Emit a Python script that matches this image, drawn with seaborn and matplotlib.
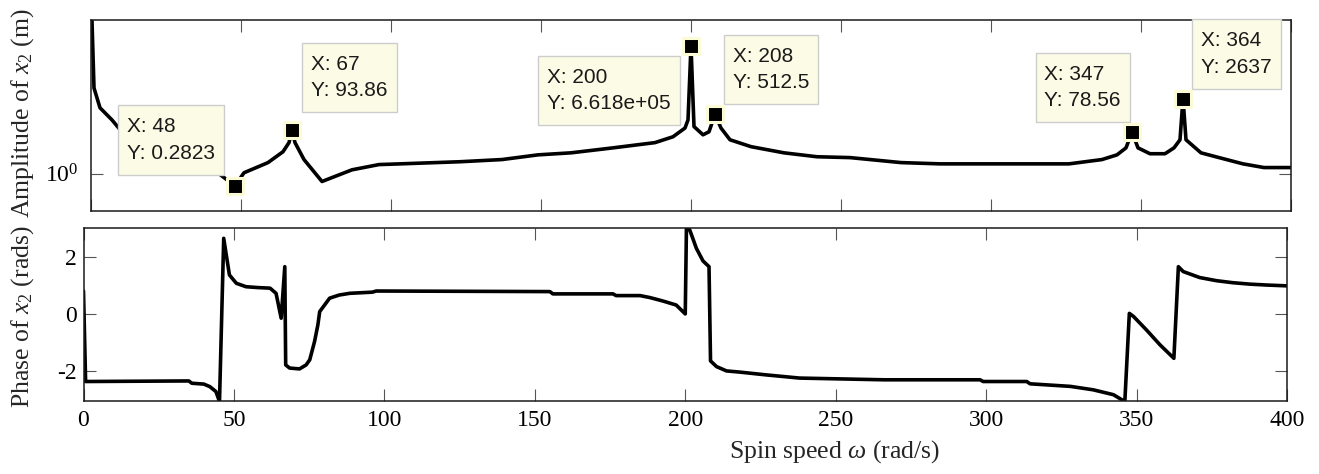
import matplotlib
matplotlib.use("Agg")
import matplotlib.pyplot as plt
from matplotlib.patches import Rectangle
import seaborn as sns
import pandas as pd

# Amplitude of x2 versus spin speed (rad/s)
amp_speed = [0, 1, 3, 7, 10, 20, 30, 40, 44, 48, 51, 59, 64, 66, 67, 68, 71, 77, 81, 87,
             96, 103, 123, 137, 149, 160, 174, 188, 194, 198, 199, 200, 201, 204, 206, 208,
             210, 213, 220, 231, 242, 253, 270, 283, 326, 337, 342, 345, 347, 349, 353, 358,
             361, 363, 364, 365, 370, 376, 384, 391, 400]
amp_value = [3e8, 8000, 1000, 280, 90, 21, 7.3, 1.9, 0.72, 0.2823, 1.1, 3.2, 10, 26, 93.86, 26,
             4.4, 0.44, 0.72, 1.5, 2.6, 2.8, 3.5, 4.4, 7.2, 8.9, 15, 26, 48, 120, 280, 6.618e5,
             140, 59, 81, 512.5, 120, 35, 17, 8.9, 5.9, 5.4, 3.2, 2.8, 2.8, 4.4, 7.2, 15, 78.56,
             15, 8.1, 8.1, 15, 35, 2637, 35, 8.9, 5.4, 2.8, 1.9, 1.9]

# Phase of x2 versus spin speed (rad/s)
phase_speed = [0, 0.7, 35, 36, 40, 42, 44, 45.2, 46.6, 48.5, 50.8, 54, 58, 62, 64, 65.7, 66.9,
               67.2, 68.5, 71.8, 74, 75.2, 76.8, 77.9, 78.5, 81.8, 85, 88.5, 96, 97.3, 155, 156,
               176, 177, 185, 188.3, 192.6, 197, 200, 200.4, 201.5, 203.7, 205.9, 207.9, 208.4,
               210.4, 213.7, 218, 227, 238, 266, 298, 299, 313.5, 314.6, 328, 335.6, 342.3,
               346.1, 347.6, 349, 353.3, 357.8, 362.4, 363.9, 365.5, 371, 376.6, 382, 387.7,
               393, 400]
phase_value = [0.81, -2.35, -2.33, -2.41, -2.44, -2.53, -2.70, -3.05, 2.65, 1.37, 1.08, 0.96,
               0.93, 0.91, 0.73, -0.14, 1.66, -1.77, -1.88, -1.91, -1.77, -1.59, -0.95, -0.37,
               0.09, 0.56, 0.67, 0.73, 0.77, 0.81, 0.79, 0.71, 0.71, 0.65, 0.65, 0.58, 0.46,
               0.32, 0.01, 3.05, 2.94, 2.30, 1.86, 1.66, -1.63, -1.83, -1.98, -2.02, -2.12,
               -2.23, -2.29, -2.29, -2.35, -2.35, -2.43, -2.52, -2.64, -2.81, -3.05, 0.03,
               -0.08, -0.55, -1.07, -1.54, 1.66, 1.49, 1.28, 1.17, 1.10, 1.05, 1.02, 0.99]

# Data tips on the amplitude curve
tip_x = [48, 67, 200, 208, 347, 364]
tip_y = [0.2823, 93.86, 6.618e5, 512.5, 78.56, 2637]

x_ticks = [0, 50, 100, 150, 200, 250, 300, 350, 400]
phase_ticks = [-2, 0, 2]

# Corner of each tip box and its pixel offset from the marker centre
tip_layout = [("lr", -11, 11), ("ll", 10, 18), ("ur", -11, -10),
              ("ll", 9, 10), ("lr", -2, 10), ("ll", 9, 10)]

sns.set_theme(style="ticks")
plt.rcParams["font.family"] = ["Liberation Serif", "DejaVu Serif"]
plt.rcParams["mathtext.fontset"] = "custom"
plt.rcParams["mathtext.rm"] = "Liberation Serif"
plt.rcParams["mathtext.it"] = "Liberation Serif:italic"
plt.rcParams["mathtext.bf"] = "Liberation Serif:bold"

W, H, DPI = 1319, 474, 100
fig = plt.figure(figsize=(W / DPI, H / DPI), dpi=DPI)
ax1 = fig.add_axes([91 / W, 1 - 211 / H, 1200 / W, 191 / H])
ax2 = fig.add_axes([83.5 / W, 1 - 400.7 / H, 1203.5 / W, 172.4 / H])

amp_df = pd.DataFrame({"speed": amp_speed, "amp": amp_value})
phase_df = pd.DataFrame({"speed": phase_speed, "phase": phase_value})

sns.lineplot(data=amp_df, x="speed", y="amp", ax=ax1, color="black", lw=2.6,
             estimator=None, sort=False)
sns.lineplot(data=phase_df, x="speed", y="phase", ax=ax2, color="black", lw=2.6,
             estimator=None, sort=False)

ax1.set_yscale("log")
ax1.set_ylim(10 ** -1.7, 1e7)
ax1.set_yticks([1])
ax1.set_yticks([], minor=True)
ax2.set_ylim(-3.02, 3.0)
ax2.set_yticks(phase_ticks)
ax2.set_yticklabels([f"{v:d}" for v in phase_ticks])

tick_fs = 17
for ax in (ax1, ax2):
    ax.set_xlim(0, 400)
    ax.set_xticks(x_ticks)
    ax.set_xlabel("")
    ax.set_ylabel("")
    for s in ax.spines.values():
        s.set_visible(True)
        s.set_linewidth(1.1)
        s.set_color("#1a1a1a")
    ax.tick_params(which="major", direction="in", length=8.5, width=0.8, color="#555555",
                   top=True, right=True, labelsize=tick_fs, labelcolor="black")

ax1.tick_params(axis="x", labelbottom=False)
ax1.tick_params(axis="y", pad=9)
ax2.tick_params(axis="y", pad=5)
ax2.tick_params(axis="x", pad=7)
ax2.set_xticklabels([str(v) for v in x_ticks])

# Data tip markers
sns.scatterplot(x=tip_x, y=tip_y, ax=ax1, marker="s", s=130, color="black",
                edgecolor="#fbfbd6", linewidth=2.2, zorder=6, clip_on=False)

# Data tip labels: text first, then a box drawn around each text's extent
fs = 15
pad_x, pad_y = 9, 12
tips = []
for x, y, (corner, dx, dy) in zip(tip_x, tip_y, tip_layout):
    ha = "right" if corner[1] == "r" else "left"
    va = "bottom" if corner[0] == "l" else "top"
    ox = dx - pad_x if ha == "right" else dx + pad_x
    oy = dy + pad_y if va == "bottom" else dy - pad_y
    t = ax1.annotate(f"X: {x}\nY: {y:.4g}", xy=(x, y), xycoords="data",
                     xytext=(ox, oy), textcoords="offset pixels", ha=ha, va=va,
                     multialignment="left", fontsize=fs,
                     family=["Liberation Sans", "DejaVu Sans"], color="#1a1a1a",
                     linespacing=1.5, zorder=5, annotation_clip=False)
    tips.append(t)

fig.canvas.draw()
renderer = fig.canvas.get_renderer()
inv = ax1.transAxes.inverted()
for t in tips:
    bb = t.get_window_extent(renderer)
    (x0, y0) = inv.transform((bb.x0 - pad_x, bb.y0 - pad_y))
    (x1, y1) = inv.transform((bb.x1 + pad_x, bb.y1 + pad_y))
    ax1.add_patch(Rectangle((x0, y0), x1 - x0, y1 - y0, transform=ax1.transAxes,
                            fc="#fcfce6", ec="#cdcdcd", lw=1.0, zorder=4, clip_on=False))

label_fs = 18.5
fig.text(23 / W, 1 - 113 / H, r"Amplitude of $x_2$ (m)", rotation=90,
         ha="center", va="center", fontsize=label_fs)
fig.text(23 / W, 1 - 317 / H, r"Phase of $x_2$ (rads)", rotation=90,
         ha="center", va="center", fontsize=label_fs)
fig.text(835 / W, 1 - 458 / H, r"Spin speed $\omega$ (rad/s)", ha="center",
         va="baseline", fontsize=label_fs)

fig.savefig("out.png", dpi=DPI)
